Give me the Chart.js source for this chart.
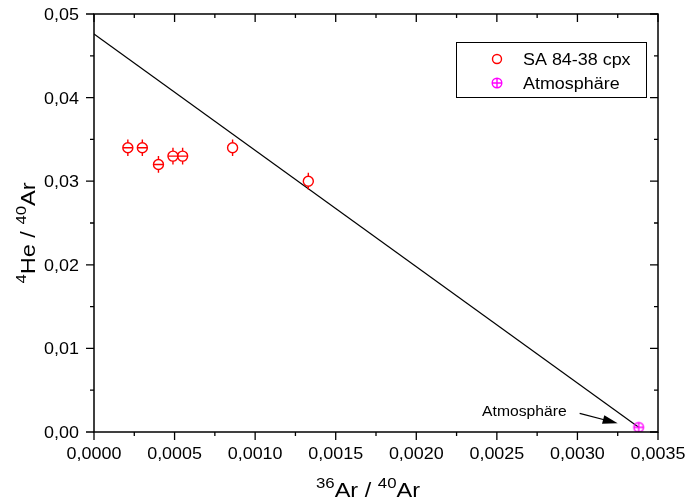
<!DOCTYPE html>
<html>
<head>
<meta charset="utf-8">
<script src="https://cdn.jsdelivr.net/npm/chart.js@4/dist/chart.umd.min.js"></script>
<style>
  html, body { margin: 0; padding: 0; background: #fff; }
  #wrap { width: 685px; height: 501px; }
</style>
</head>
<body>
<div id="wrap"><canvas id="chart" width="685" height="501"></canvas></div>
<script>
// measured sample: 36Ar/40Ar vs 4He/40Ar
const sampleLabel = "SA 84-38 cpx";
const sampleX = [0.00021, 0.00030, 0.00040, 0.00049, 0.00055, 0.00086, 0.00133];
const sampleY = [0.034, 0.034, 0.032, 0.033, 0.033, 0.034, 0.030];
const sampleYErr = [0.001, 0.001, 0.001, 0.001, 0.001, 0.001, 0.001];
const sampleXErr = [0.00003, 0.00003, 0.00003, 0.00003, 0.00003, 0, 0];

// air
const atmLabel = "Atmosphäre";
const atmX = [0.00338];
const atmY = [0.00056];

// mixing line
const fitX = [0, 0.00338];
const fitY = [0.0476, 0.00056];

const xTicks = [0, 0.0005, 0.0010, 0.0015, 0.0020, 0.0025, 0.0030, 0.0035];
const yTicks = [0, 0.01, 0.02, 0.03, 0.04, 0.05];

const SX = 1.12; // text looks a bit wide in the original
const FONT = "Liberation Sans, Arial, sans-serif";

function xyPoints(xs, ys) {
    return xs.map((x, i) => ({ x: x, y: ys[i] }));
}

function fmt(v, d) {
    return v.toFixed(d).replace(".", ",");
}

function drawText(ctx, txt, x, y, align, size) {
    ctx.save();
    ctx.font = size + "px " + FONT;
    const w = ctx.measureText(txt).width * SX;
    let left = x;
    if (align === "right") left = x - w;
    if (align === "center") left = x - w / 2;
    ctx.translate(left, y);
    ctx.scale(SX, 1);
    ctx.textAlign = "left";
    ctx.textBaseline = "alphabetic";
    ctx.fillStyle = "#000";
    ctx.fillText(txt, 0, 0);
    ctx.restore();
}

// text with superscripts, centred on (0,0) of current transform
function drawSupText(ctx, parts, size) {
    const sub = Math.round(size * 0.7);
    let total = 0;
    parts.forEach(p => {
        ctx.font = (p.sup ? sub : size) + "px " + FONT;
        p.w = ctx.measureText(p.t).width;
        total += p.w;
    });
    ctx.save();
    ctx.scale(SX, 1);
    let x = -total / 2;
    ctx.fillStyle = "#000";
    ctx.textBaseline = "alphabetic";
    ctx.textAlign = "left";
    parts.forEach(p => {
        ctx.font = (p.sup ? sub : size) + "px " + FONT;
        ctx.fillText(p.t, x, p.sup ? -size * 0.42 : 0);
        x += p.w;
    });
    ctx.restore();
}

function makeAtmMarker(r) {
    const c = document.createElement("canvas");
    const s = Math.ceil(r * 2 + 4);
    c.width = s; c.height = s;
    const g = c.getContext("2d");
    g.strokeStyle = "#ff00ff";
    g.lineWidth = 1.4;
    g.beginPath();
    g.arc(s / 2, s / 2, r, 0, Math.PI * 2);
    g.moveTo(s / 2 - r, s / 2); g.lineTo(s / 2 + r, s / 2);
    g.moveTo(s / 2, s / 2 - r); g.lineTo(s / 2, s / 2 + r);
    g.stroke();
    return c;
}
const atmMarker = makeAtmMarker(4.8);

// ================= ERROR BARS =================
const errorBars = {
    id: "errorBars",
    afterDatasetsDraw(chart) {
        const ctx = chart.ctx;
        const xs = chart.scales.x, ys = chart.scales.y;
        const r = 5;
        ctx.save();
        ctx.strokeStyle = "#ff0000";
        ctx.lineWidth = 1.4;
        sampleX.forEach((xv, i) => {
            const px = xs.getPixelForValue(xv);
            const py = ys.getPixelForValue(sampleY[i]);
            const top = ys.getPixelForValue(sampleY[i] + sampleYErr[i]);
            const bot = ys.getPixelForValue(sampleY[i] - sampleYErr[i]);
            ctx.beginPath();
            ctx.moveTo(px, top); ctx.lineTo(px, py - r);
            ctx.moveTo(px, py + r); ctx.lineTo(px, bot);
            if (sampleXErr[i] > 0) {
                ctx.moveTo(xs.getPixelForValue(xv - sampleXErr[i]), py);
                ctx.lineTo(xs.getPixelForValue(xv + sampleXErr[i]), py);
            }
            ctx.stroke();
        });
        ctx.restore();
    }
};

// ================= FRAME, TICKS, TEXT =================
const frame = {
    id: "frame",
    afterDraw(chart) {
        const ctx = chart.ctx;
        const a = chart.chartArea;
        const xs = chart.scales.x, ys = chart.scales.y;
        ctx.save();
        ctx.strokeStyle = "#000";
        ctx.lineWidth = 1.5;
        ctx.strokeRect(a.left, a.top, a.right - a.left, a.bottom - a.top);

        ctx.lineWidth = 1.3;
        ctx.beginPath();
        const xStep = xTicks[1] - xTicks[0];
        xTicks.forEach((v, i) => {
            const p = xs.getPixelForValue(v);
            ctx.moveTo(p, a.bottom); ctx.lineTo(p, a.bottom + 8);
            ctx.moveTo(p, a.top); ctx.lineTo(p, a.top + 8);
            if (i < xTicks.length - 1) {
                const m = xs.getPixelForValue(v + xStep / 2);
                ctx.moveTo(m, a.bottom); ctx.lineTo(m, a.bottom + 4);
                ctx.moveTo(m, a.top); ctx.lineTo(m, a.top + 4);
            }
        });
        const yStep = yTicks[1] - yTicks[0];
        yTicks.forEach((v, i) => {
            const p = ys.getPixelForValue(v);
            ctx.moveTo(a.left, p); ctx.lineTo(a.left - 8, p);
            ctx.moveTo(a.right, p); ctx.lineTo(a.right - 8, p);
            if (i < yTicks.length - 1) {
                const m = ys.getPixelForValue(v + yStep / 2);
                ctx.moveTo(a.left, m); ctx.lineTo(a.left - 4, m);
                ctx.moveTo(a.right, m); ctx.lineTo(a.right - 4, m);
            }
        });
        ctx.stroke();

        // tick labels
        xTicks.forEach(v => drawText(ctx, fmt(v, 4), xs.getPixelForValue(v), a.bottom + 27, "center", 16));
        yTicks.forEach(v => drawText(ctx, fmt(v, 2), a.left - 15, ys.getPixelForValue(v) + 6, "right", 16));

        // axis titles
        ctx.save();
        ctx.translate((a.left + a.right) / 2 - 8, 497);
        drawSupText(ctx, [{ t: "36", sup: true }, { t: "Ar / " }, { t: "40", sup: true }, { t: "Ar" }], 21);
        ctx.restore();
        ctx.save();
        ctx.translate(35, (a.top + a.bottom) / 2 + 10);
        ctx.rotate(-Math.PI / 2);
        drawSupText(ctx, [{ t: "4", sup: true }, { t: "He / " }, { t: "40", sup: true }, { t: "Ar" }], 21);
        ctx.restore();

        // legend
        const lx = a.right - 202, ly = a.top + 28, lw = 190, lh = 55;
        ctx.lineWidth = 1;
        ctx.strokeRect(lx + 0.5, ly + 0.5, lw, lh);
        ctx.strokeStyle = "#ff0000";
        ctx.lineWidth = 1.4;
        ctx.beginPath();
        ctx.arc(lx + 41, ly + 17, 4.5, 0, Math.PI * 2);
        ctx.stroke();
        ctx.drawImage(atmMarker, lx + 41 - atmMarker.width / 2, ly + 41 - atmMarker.height / 2);
        drawText(ctx, sampleLabel, lx + 67, ly + 23, "left", 16);
        drawText(ctx, atmLabel, lx + 67, ly + 47, "left", 16);

        // annotation with arrow pointing at the air value
        const ax = xs.getPixelForValue(atmX[0]), ay = ys.getPixelForValue(atmY[0]);
        drawText(ctx, atmLabel, ax - 72, ay - 11, "right", 14);
        const tx = ax - 59, ty = ay - 14, hx = ax - 21, hy = ay - 4;
        const ang = Math.atan2(hy - ty, hx - tx);
        ctx.strokeStyle = "#000";
        ctx.fillStyle = "#000";
        ctx.lineWidth = 1.2;
        ctx.beginPath();
        ctx.moveTo(tx, ty); ctx.lineTo(hx - 10 * Math.cos(ang), hy - 10 * Math.sin(ang));
        ctx.stroke();
        ctx.beginPath();
        ctx.moveTo(hx, hy);
        ctx.lineTo(hx - 15 * Math.cos(ang) + 4.5 * Math.sin(ang), hy - 15 * Math.sin(ang) - 4.5 * Math.cos(ang));
        ctx.lineTo(hx - 15 * Math.cos(ang) - 4.5 * Math.sin(ang), hy - 15 * Math.sin(ang) + 4.5 * Math.cos(ang));
        ctx.closePath();
        ctx.fill();
        ctx.restore();
    }
};

new Chart(document.getElementById("chart"), {
    type: "scatter",
    data: {
        datasets: [
            {
                label: sampleLabel,
                data: xyPoints(sampleX, sampleY),
                borderColor: "#ff0000",
                backgroundColor: "rgba(0,0,0,0)",
                borderWidth: 1.4,
                pointRadius: 5,
                pointStyle: "circle"
            },
            {
                label: atmLabel,
                data: xyPoints(atmX, atmY),
                pointStyle: atmMarker,
                pointRadius: 5
            },
            {
                label: "fit",
                type: "line",
                data: xyPoints(fitX, fitY),
                borderColor: "#000",
                borderWidth: 1.2,
                pointRadius: 0,
                fill: false
            }
        ]
    },
    options: {
        responsive: false,
        animation: false,
        events: [],
        layout: { padding: { top: 14, right: 27, left: 0, bottom: 0 } },
        plugins: { legend: { display: false }, tooltip: { enabled: false } },
        scales: {
            x: {
                type: "linear",
                min: 0,
                max: 0.0035,
                grid: { display: false },
                border: { display: false },
                ticks: { display: false },
                afterBuildTicks: s => { s.ticks = xTicks.map(v => ({ value: v })); },
                afterFit: s => { s.height = 69; }
            },
            y: {
                min: 0,
                max: 0.05,
                grid: { display: false },
                border: { display: false },
                ticks: { display: false },
                afterBuildTicks: s => { s.ticks = yTicks.map(v => ({ value: v })); },
                afterFit: s => { s.width = 94; }
            }
        }
    },
    plugins: [errorBars, frame]
});
</script>
</body>
</html>
